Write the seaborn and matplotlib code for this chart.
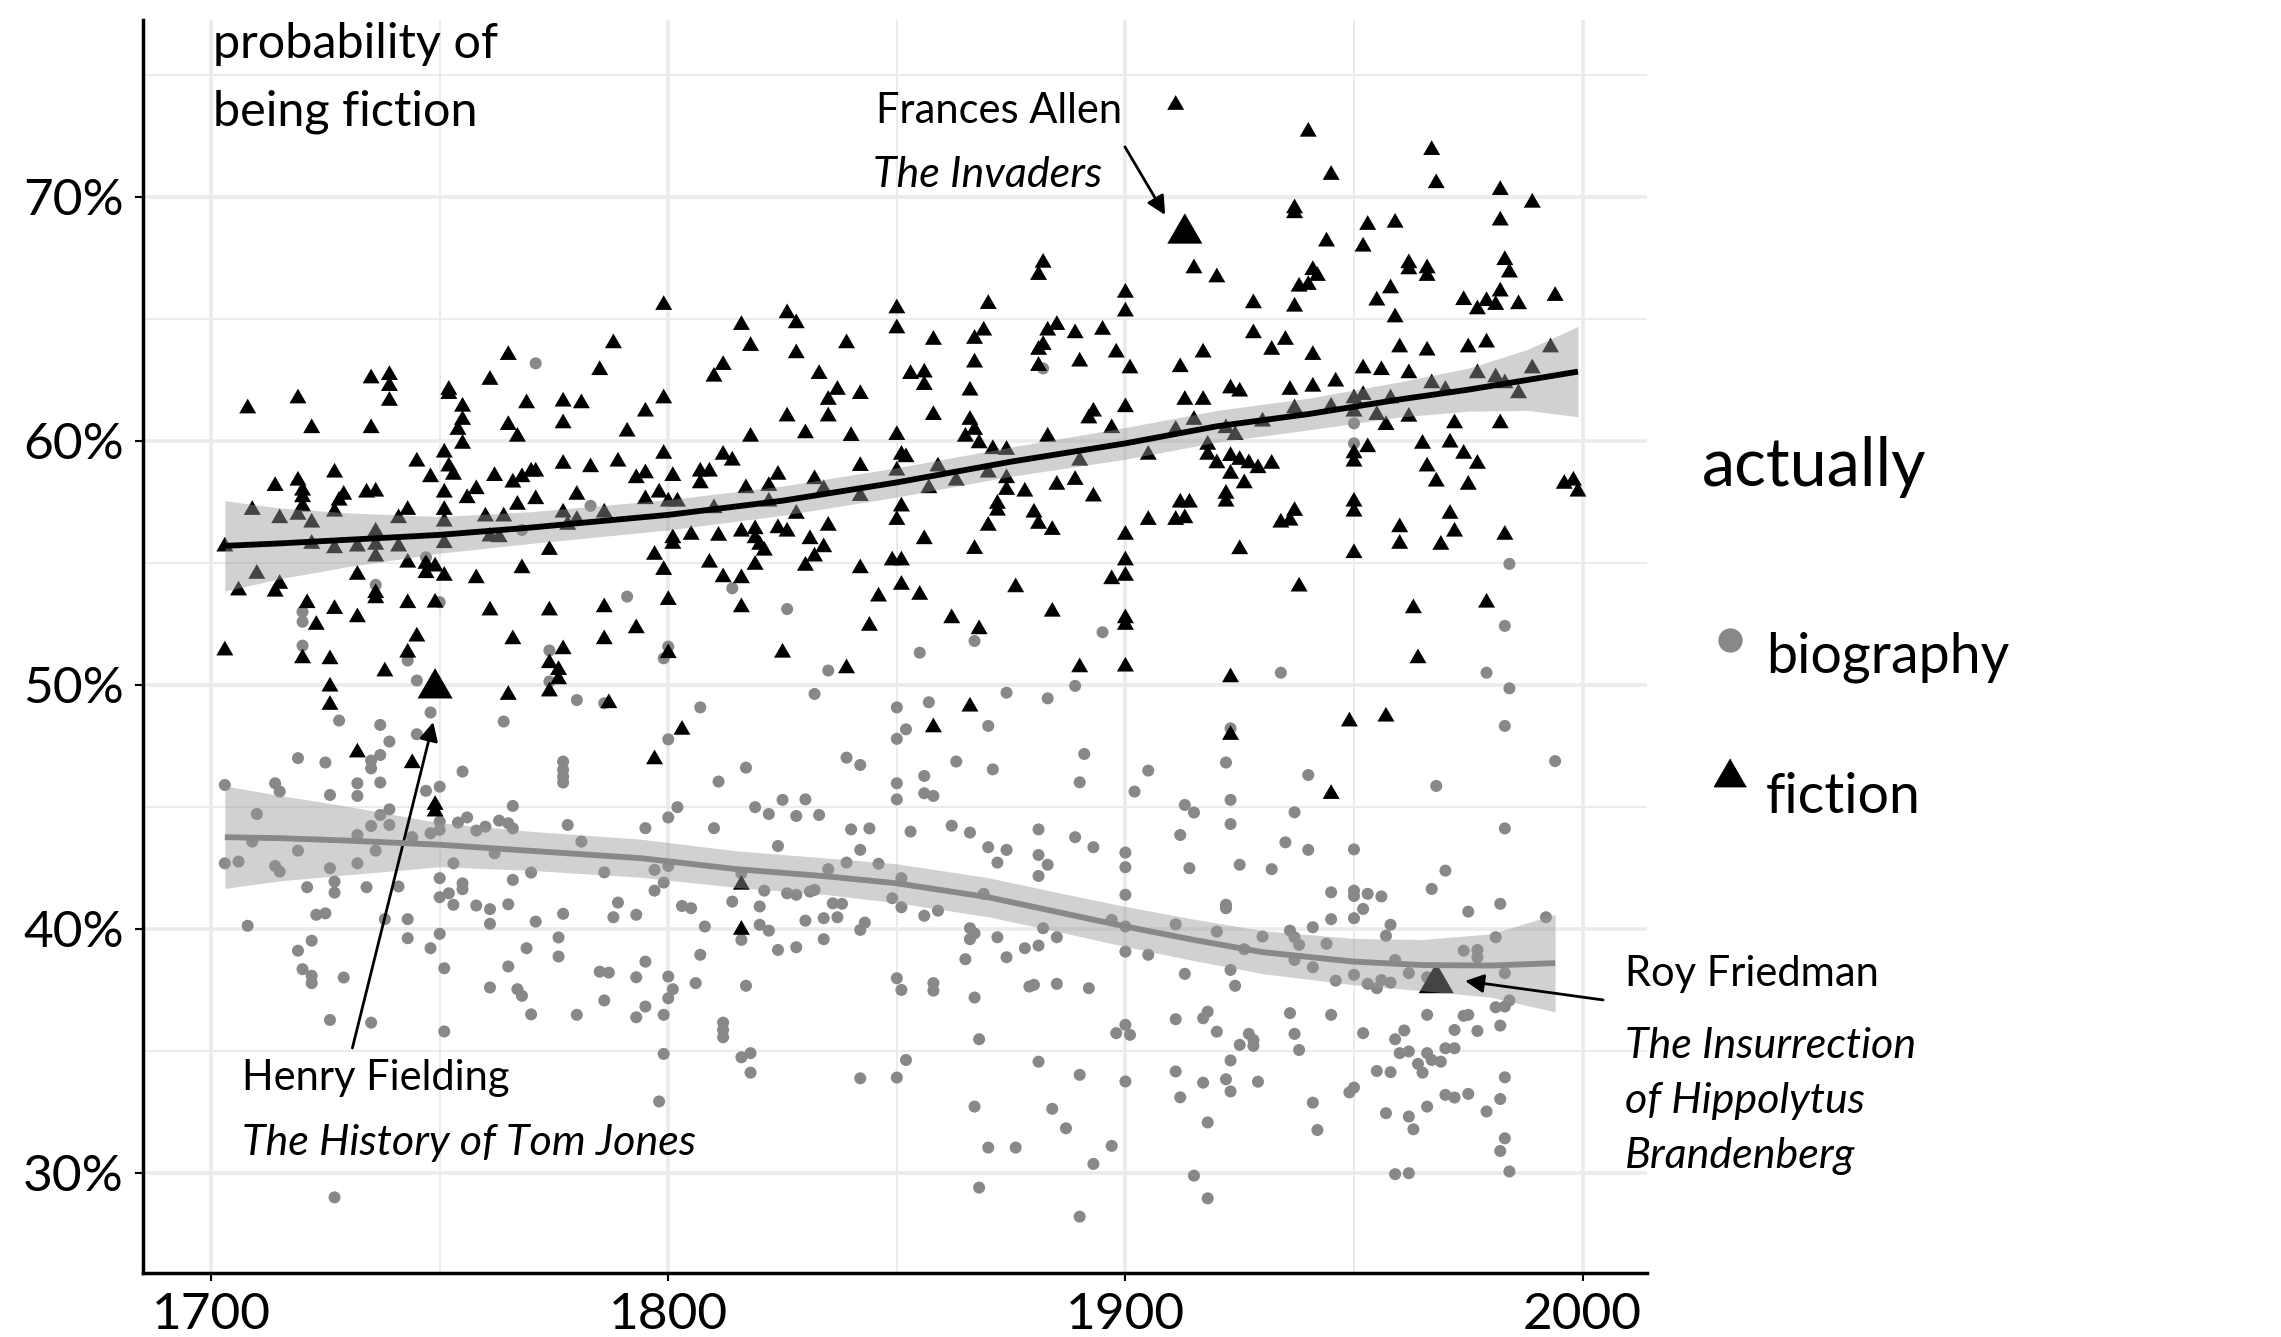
import numpy as np
import pandas as pd
import seaborn as sns
import matplotlib
matplotlib.use("Agg")
from matplotlib import pyplot as plt
from matplotlib.lines import Line2D
from matplotlib.markers import MarkerStyle
from matplotlib.ticker import FuncFormatter

# predicted probability of being fiction, by publication year
fiction_pts = [
    (1708, 61.33), (1719, 61.74), (1722, 60.52), (1735, 62.56), (1739, 62.70), (1739, 62.25),
    (1739, 61.64), (1735, 60.52), (1752, 62.09), (1752, 61.92), (1755, 61.40), (1755, 60.86),
    (1754, 60.45), (1765, 63.52), (1761, 62.50), (1769, 61.54), (1765, 60.65), (1767, 60.17),
    (1777, 61.61), (1781, 61.54), (1777, 60.72), (1785, 62.90), (1788, 64.00), (1791, 60.38),
    (1799, 65.57), (1799, 61.74), (1795, 61.20), (1816, 64.75), (1818, 63.89), (1812, 63.11),
    (1810, 62.63), (1826, 65.23), (1828, 64.82), (1828, 63.59), (1839, 64.00), (1833, 62.74),
    (1837, 62.09), (1835, 61.68), (1842, 61.92), (1826, 61.00), (1835, 61.00), (1830, 60.31),
    (1818, 60.17), (1840, 60.20), (1850, 65.43), (1850, 64.61), (1858, 64.14), (1853, 62.74),
    (1856, 62.80), (1856, 62.29), (1858, 61.06), (1850, 60.24), (1870, 65.61), (1869, 64.52),
    (1867, 64.18), (1867, 63.21), (1866, 62.06), (1866, 60.86), (1867, 60.45), (1865, 60.17),
    (1882, 67.30), (1881, 66.80), (1885, 64.75), (1883, 64.52), (1882, 63.93), (1881, 63.73),
    (1881, 63.07), (1889, 64.41), (1895, 64.55), (1890, 63.25), (1898, 63.62), (1900, 66.07),
    (1900, 65.30), (1901, 62.97), (1900, 61.38), (1893, 61.20), (1892, 60.92), (1897, 60.52),
    (1883, 60.17),
    (1911, 73.77), (1915, 67.07), (1920, 66.70), (1940, 72.67), (1945, 70.90), (1937, 69.53),
    (1937, 69.33), (1944, 68.17), (1941, 67.00), (1942, 66.76), (1940, 66.39), (1938, 66.32),
    (1928, 65.64), (1937, 65.50), (1928, 64.41), (1935, 64.14), (1932, 63.73), (1941, 63.52),
    (1917, 63.62), (1912, 63.02), (1913, 61.68), (1917, 61.68), (1923, 62.15), (1925, 62.02),
    (1936, 62.09), (1941, 62.22), (1946, 62.43), (1915, 60.86), (1911, 60.45), (1922, 60.52),
    (1924, 60.24), (1930, 60.79), (1937, 61.33), (1945, 61.40), (1950, 61.74), (1950, 61.20),
    (1953, 68.85), (1959, 68.94), (1952, 67.96), (1962, 67.28), (1962, 67.03), (1966, 67.07),
    (1966, 66.76), (1958, 66.25), (1955, 65.75), (1959, 65.06), (1967, 71.92), (1968, 70.56),
    (1982, 70.28), (1989, 69.76), (1982, 69.03), (1983, 67.41), (1984, 66.90), (1982, 66.12),
    (1974, 65.77), (1979, 65.73), (1981, 65.57), (1977, 65.39), (1986, 65.60), (1994, 65.94),
    (1960, 63.83), (1966, 63.70), (1975, 63.83), (1979, 64.03), (1952, 62.97), (1956, 62.90),
    (1962, 62.77), (1967, 62.36), (1970, 62.09), (1977, 62.77), (1981, 62.60), (1983, 62.36),
    (1986, 61.95), (1989, 62.97), (1993, 63.83), (1955, 61.06), (1957, 60.65), (1962, 60.99),
    (1972, 60.72), (1982, 60.72), (1958, 61.74), (1952, 61.88),
    (1755, 59.88), (1751, 59.52), (1745, 59.15), (1752, 58.95), (1753, 58.61), (1748, 58.51),
    (1751, 57.88), (1714, 58.15), (1719, 58.37), (1720, 57.96), (1720, 57.69), (1720, 57.31),
    (1727, 58.70), (1729, 57.79), (1728, 57.55), (1727, 57.10), (1734, 57.88), (1736, 57.92),
    (1709, 57.17), (1715, 56.83), (1719, 56.97), (1722, 56.65), (1703, 55.67), (1722, 55.78),
    (1727, 55.60), (1732, 55.67), (1736, 56.28), (1736, 55.74), (1736, 55.26), (1741, 56.83),
    (1743, 57.17), (1741, 55.67), (1751, 57.17), (1751, 56.69), (1751, 55.81), (1758, 58.02),
    (1756, 57.65), (1762, 58.56), (1766, 58.29), (1768, 58.51), (1770, 58.74), (1771, 58.74),
    (1771, 57.61), (1767, 57.38), (1777, 59.06), (1783, 58.92), (1789, 59.15), (1793, 58.47),
    (1780, 57.79), (1760, 56.90), (1764, 56.90), (1761, 56.08), (1763, 56.05), (1777, 57.06),
    (1780, 56.76), (1778, 56.56), (1786, 57.06), (1774, 55.53), (1768, 54.78), (1758, 54.37),
    (1743, 55.01), (1747, 54.96), (1749, 54.85), (1747, 54.58), (1751, 54.47), (1732, 54.51),
    (1710, 54.55), (1706, 53.87), (1715, 54.14), (1714, 53.82), (1736, 53.76), (1736, 53.55),
    (1743, 53.35), (1749, 53.37), (1721, 53.35), (1727, 53.11), (1732, 52.77), (1723, 52.46),
    (1761, 53.05), (1774, 53.05), (1786, 53.18), (1793, 52.32), (1766, 51.87), (1786, 51.87),
    (1745, 51.98), (1743, 51.32), (1703, 51.41), (1720, 51.09), (1726, 51.05), (1777, 51.46),
    (1774, 50.89), (1776, 50.61), (1776, 50.23), (1774, 49.73), (1738, 50.55), (1726, 49.93),
    (1726, 49.18), (1765, 49.59), (1787, 49.25), (1732, 47.23), (1744, 46.79), (1749, 45.08),
    (1749, 44.81),
    (1799, 59.47), (1795, 58.67), (1801, 58.56), (1807, 58.74), (1809, 58.74), (1807, 58.26),
    (1812, 59.43), (1814, 59.19), (1824, 58.61), (1798, 57.88), (1795, 57.61), (1800, 57.51),
    (1802, 57.51), (1817, 58.06), (1822, 58.15), (1810, 57.24), (1822, 57.51), (1832, 58.43),
    (1834, 58.02), (1842, 58.97), (1842, 57.74), (1850, 58.78), (1851, 59.43), (1852, 59.33),
    (1859, 58.95), (1857, 58.06), (1863, 58.37), (1870, 58.70), (1874, 58.47), (1871, 59.66),
    (1874, 59.63), (1890, 59.19), (1868, 59.90), (1874, 57.99), (1878, 57.92), (1885, 58.20),
    (1889, 58.40), (1893, 57.72), (1851, 57.31), (1850, 56.76), (1872, 57.42), (1872, 57.14),
    (1870, 56.52), (1880, 57.06), (1881, 56.60), (1884, 56.35), (1867, 55.57), (1856, 55.97),
    (1900, 56.15), (1900, 55.10), (1900, 54.47), (1897, 54.33), (1876, 54.00), (1884, 53.00),
    (1900, 52.73), (1900, 52.46), (1890, 50.72), (1900, 50.75), (1866, 49.11), (1858, 48.26),
    (1862, 52.73), (1868, 52.28), (1844, 52.42), (1846, 53.62), (1851, 54.10), (1855, 53.69),
    (1849, 55.10), (1851, 55.10), (1842, 54.78), (1801, 56.01), (1801, 55.78), (1797, 55.33),
    (1799, 54.71), (1800, 53.48), (1805, 56.15), (1811, 56.11), (1816, 56.28), (1819, 56.38),
    (1819, 56.01), (1820, 55.74), (1821, 55.50), (1819, 54.92), (1824, 56.42), (1826, 56.28),
    (1828, 57.01), (1831, 55.97), (1834, 55.64), (1832, 55.26), (1830, 54.88), (1835, 56.52),
    (1809, 55.01), (1812, 54.41), (1816, 54.37), (1816, 53.18), (1800, 51.30), (1825, 51.32),
    (1839, 50.68), (1803, 48.16), (1797, 46.95),
    (1905, 59.43), (1918, 59.84), (1918, 59.43), (1920, 59.08), (1923, 59.38), (1925, 59.22),
    (1927, 59.08), (1929, 58.88), (1932, 59.06), (1923, 58.65), (1926, 58.26), (1922, 57.83),
    (1922, 57.51), (1912, 57.47), (1914, 57.47), (1905, 56.76), (1911, 56.76), (1913, 56.83),
    (1934, 56.65), (1936, 56.73), (1937, 57.13), (1925, 55.56), (1950, 59.49), (1950, 59.15),
    (1953, 59.74), (1965, 59.88), (1971, 59.93), (1974, 59.47), (1977, 59.06), (1966, 58.95),
    (1968, 58.33), (1975, 58.20), (1996, 58.24), (1998, 58.37), (1999, 57.92), (1950, 57.51),
    (1950, 57.10), (1950, 55.40), (1960, 56.46), (1960, 55.78), (1971, 57.01), (1972, 56.28),
    (1969, 55.74), (1983, 56.15), (1938, 54.03), (1963, 53.14), (1979, 53.37), (1964, 51.09),
    (1923, 50.31), (1923, 47.95), (1949, 48.50), (1957, 48.70), (1945, 45.53),
    (1816, 41.81), (1816, 39.96),
]

biography_pts = [
    (1771, 63.18), (1882, 62.97), (1950, 60.72), (1950, 59.90),
    (1783, 57.34), (1768, 56.35), (1747, 55.23), (1736, 54.10), (1750, 53.39), (1720, 53.00),
    (1720, 52.59), (1720, 51.61), (1791, 53.62), (1743, 51.00), (1774, 51.41), (1774, 50.14),
    (1786, 49.25), (1780, 49.38), (1745, 50.18), (1748, 48.87), (1728, 48.54), (1737, 48.36),
    (1764, 48.50), (1745, 47.98), (1739, 47.68), (1719, 47.00), (1725, 46.82), (1737, 47.13),
    (1735, 46.90), (1735, 46.58), (1755, 46.45), (1777, 46.86), (1777, 46.52), (1777, 46.24),
    (1777, 46.00), (1703, 45.90), (1714, 45.97), (1715, 45.63), (1726, 45.49), (1732, 45.97),
    (1732, 45.45), (1737, 46.00), (1747, 45.66), (1750, 45.83), (1710, 44.71), (1737, 44.67),
    (1739, 44.90), (1735, 44.22), (1739, 44.26), (1750, 44.40), (1750, 44.06), (1748, 43.92),
    (1754, 44.36), (1756, 44.57), (1758, 44.03), (1760, 44.19), (1763, 44.44), (1765, 44.33),
    (1766, 44.12), (1766, 45.04), (1778, 44.26), (1781, 43.58), (1732, 43.85), (1744, 43.76),
    (1709, 43.58), (1719, 43.21), (1736, 43.21), (1762, 43.10),
    (1703, 42.69), (1706, 42.76), (1714, 42.58), (1715, 42.35), (1726, 42.49), (1732, 42.69),
    (1753, 42.69), (1721, 41.71), (1727, 41.94), (1727, 41.49), (1734, 41.71), (1741, 41.74),
    (1750, 42.08), (1750, 41.30), (1752, 41.46), (1755, 41.87), (1755, 41.63), (1753, 40.99),
    (1758, 40.96), (1761, 40.81), (1761, 40.21), (1765, 41.01), (1766, 42.01), (1770, 42.31),
    (1786, 42.32), (1777, 40.62), (1771, 40.30), (1789, 41.08), (1788, 40.48), (1793, 40.58),
    (1708, 40.13), (1723, 40.58), (1725, 40.64), (1738, 40.40), (1743, 40.40), (1743, 39.62),
    (1750, 39.80), (1748, 39.21), (1751, 38.39), (1722, 39.52), (1719, 39.11), (1720, 38.35),
    (1722, 38.08), (1722, 37.78), (1729, 38.01), (1769, 39.21), (1776, 39.65), (1776, 38.87),
    (1765, 38.46), (1761, 37.60), (1767, 37.53), (1768, 37.26), (1770, 36.50), (1780, 36.48),
    (1785, 38.25), (1787, 38.21), (1786, 37.07), (1793, 36.38), (1793, 38.02), (1726, 36.27),
    (1735, 36.16), (1751, 35.80), (1727, 29.00),
    (1814, 53.96), (1826, 53.11), (1800, 51.57), (1799, 51.09), (1835, 50.59), (1832, 49.63),
    (1855, 51.32), (1867, 51.80), (1895, 52.16), (1889, 49.96), (1874, 49.68), (1883, 49.45),
    (1850, 49.08), (1857, 49.29), (1852, 48.18), (1850, 47.79), (1870, 48.32), (1807, 49.08),
    (1800, 47.77), (1839, 47.02), (1842, 46.72), (1817, 46.61), (1811, 46.04), (1863, 46.86),
    (1871, 46.54), (1891, 47.17), (1890, 46.01), (1856, 46.27), (1850, 45.97), (1850, 45.31),
    (1856, 45.56), (1858, 45.45), (1902, 45.63), (1802, 44.99), (1800, 44.57), (1795, 44.13),
    (1810, 44.13), (1819, 44.99), (1822, 44.71), (1825, 45.29), (1828, 44.63), (1830, 45.31),
    (1833, 44.67), (1824, 43.40), (1840, 44.08), (1844, 44.12), (1842, 43.24), (1853, 43.99),
    (1862, 44.23), (1866, 43.95), (1870, 43.35), (1874, 43.24), (1881, 44.08), (1889, 43.76),
    (1893, 43.35), (1900, 43.13), (1881, 43.03),
    (1797, 42.42), (1800, 42.58), (1797, 41.57), (1799, 41.90), (1803, 40.94), (1805, 40.85),
    (1808, 40.10), (1807, 38.94), (1795, 38.66), (1800, 38.05), (1801, 37.53), (1800, 37.16),
    (1795, 36.82), (1799, 36.48), (1806, 37.78), (1799, 34.88), (1798, 32.93), (1814, 41.12),
    (1816, 42.28), (1816, 39.55), (1817, 37.67), (1812, 36.16), (1812, 35.86), (1812, 35.56),
    (1816, 34.74), (1818, 34.91), (1818, 34.11), (1820, 40.92), (1821, 41.57), (1820, 40.17),
    (1822, 39.93), (1824, 39.14), (1828, 39.25), (1826, 41.46), (1828, 41.40), (1831, 41.53),
    (1832, 41.60), (1835, 42.45), (1839, 42.72), (1846, 42.67), (1830, 40.34), (1834, 40.44),
    (1837, 40.48), (1836, 41.05), (1838, 41.03), (1834, 39.58), (1842, 39.96), (1843, 40.26),
    (1842, 33.88), (1850, 33.91), (1852, 34.63), (1849, 41.26), (1851, 42.08), (1851, 40.89),
    (1856, 40.54), (1859, 40.75), (1850, 37.98), (1851, 37.50), (1858, 37.78), (1858, 37.47),
    (1869, 41.44), (1872, 42.72), (1866, 40.03), (1867, 39.82), (1866, 39.58), (1872, 39.66),
    (1865, 38.76), (1874, 38.84), (1867, 37.19), (1868, 35.48), (1882, 40.03), (1885, 39.66),
    (1878, 39.21), (1881, 39.32), (1881, 42.17), (1883, 42.63), (1879, 37.64), (1880, 37.71),
    (1885, 37.75), (1892, 37.57), (1897, 40.37), (1900, 42.53), (1900, 41.40), (1900, 40.10),
    (1900, 39.07), (1898, 35.73), (1900, 36.07), (1901, 35.66), (1900, 33.75), (1881, 34.56),
    (1890, 34.02), (1867, 32.72), (1884, 32.63), (1887, 31.83), (1870, 31.04), (1876, 31.04),
    (1897, 31.11), (1893, 30.37), (1868, 29.40), (1890, 28.21),
    (1984, 54.96), (1983, 52.42), (1979, 50.50), (1984, 49.86), (1983, 48.32), (1934, 50.50),
    (1923, 48.22), (1994, 46.88), (1922, 46.82), (1905, 46.49), (1940, 46.31), (1968, 45.86),
    (1923, 45.29), (1913, 45.08), (1915, 44.77), (1937, 44.78), (1983, 44.12), (1923, 44.30),
    (1912, 43.85), (1935, 43.55), (1940, 43.24), (1950, 43.26),
    (1914, 42.49), (1925, 42.63), (1932, 42.45), (1970, 42.39), (1945, 41.50), (1950, 41.57),
    (1950, 41.35), (1953, 41.44), (1956, 41.33), (1967, 41.64), (1982, 41.03), (1922, 40.99),
    (1922, 40.85), (1952, 40.82), (1975, 40.71), (1945, 40.40), (1950, 40.44), (1958, 40.17),
    (1957, 39.72), (1911, 40.19), (1920, 39.89), (1936, 39.93), (1937, 39.66), (1938, 39.35),
    (1941, 40.07), (1930, 39.69), (1944, 39.39), (1992, 40.48), (1981, 39.66), (1974, 39.11),
    (1977, 39.14), (1977, 38.84), (1905, 38.94), (1926, 39.17), (1937, 38.73), (1941, 38.43),
    (1923, 38.32), (1913, 38.16), (1924, 37.67), (1946, 37.88), (1950, 38.12), (1953, 37.75),
    (1955, 37.57), (1956, 37.91), (1958, 37.80), (1959, 38.73), (1962, 38.19), (1966, 38.02),
    (1983, 38.19), (1984, 37.07), (1983, 36.82), (1981, 36.79), (1975, 36.48), (1974, 36.44),
    (1966, 36.48), (1982, 36.04), (1977, 35.82), (1972, 35.86), (1911, 36.30), (1917, 36.34),
    (1918, 36.61), (1920, 35.79), (1936, 36.55), (1945, 36.48), (1937, 35.70), (1938, 35.04),
    (1927, 35.70), (1928, 35.45), (1928, 35.21), (1925, 35.25), (1952, 35.73), (1961, 35.84),
    (1959, 35.48), (1960, 34.91), (1962, 34.98), (1966, 34.91), (1964, 34.47), (1965, 34.11),
    (1967, 34.63), (1969, 34.56), (1970, 35.11), (1972, 35.11), (1923, 34.61), (1911, 34.16),
    (1917, 33.70), (1922, 33.84), (1923, 33.34), (1929, 33.74), (1912, 33.10), (1955, 34.18),
    (1958, 34.13), (1950, 33.50), (1949, 33.30), (1983, 33.92), (1970, 33.20), (1972, 33.09),
    (1975, 33.24), (1982, 33.03), (1941, 32.88), (1966, 32.72), (1957, 32.45), (1962, 32.31),
    (1979, 32.52), (1918, 32.07), (1942, 31.76), (1963, 31.79), (1983, 31.42), (1982, 30.90),
    (1984, 30.06), (1959, 29.95), (1962, 29.99), (1915, 29.89), (1918, 28.96),
]

# highlighted fiction titles
highlight_year = [1749, 1913, 1968]
highlight_prob = [49.86, 68.5, 37.78]

# loess trend + 95% band
fic_trend_year = [1703, 1715, 1730, 1750, 1770, 1800, 1825, 1850, 1875, 1900, 1920, 1940, 1960, 1975, 1988, 1999]
fic_trend_fit = [55.7, 55.8, 55.95, 56.15, 56.45, 56.97, 57.55, 58.3, 59.15, 59.9, 60.6, 61.1, 61.7, 62.1, 62.5, 62.84]
fic_trend_half = [1.85, 1.45, 1.1, 0.75, 0.65, 0.62, 0.6, 0.6, 0.6, 0.65, 0.65, 0.65, 0.72, 0.88, 1.25, 1.85]

bio_trend_year = [1703, 1715, 1730, 1750, 1770, 1794, 1815, 1835, 1850, 1870, 1885, 1900, 1915, 1930, 1950, 1965, 1980, 1994]
bio_trend_fit = [43.76, 43.72, 43.62, 43.45, 43.2, 42.9, 42.45, 42.15, 41.87, 41.3, 40.7, 40.1, 39.55, 39.05, 38.66, 38.52, 38.5, 38.6]
bio_trend_half = [2.1, 1.75, 1.4, 0.9, 0.8, 0.78, 0.75, 0.75, 0.8, 0.8, 0.8, 0.82, 0.85, 0.88, 0.95, 1.05, 1.3, 2.0]

W, H = 2281, 1337
FONT = ["Lato", "DejaVu Sans"]

sns.set_theme(style="white")
plt.rcParams["font.family"] = FONT
plt.rcParams["text.color"] = "black"

fic = pd.DataFrame(fiction_pts, columns=["year", "prob"])
bio = pd.DataFrame(biography_pts, columns=["year", "prob"])

tri = MarkerStyle([(0, 1), (-0.866, -0.5), (0.866, -0.5)])

fig = plt.figure(figsize=(W / 100, H / 100), dpi=100)
ax = fig.add_axes([143 / W, 1 - 1273 / H, (1647 - 143) / W, (1273 - 20) / H])

sns.scatterplot(data=bio, x="year", y="prob", color="#888888", s=75,
                linewidth=0, edgecolor="none", ax=ax, zorder=2)
sns.scatterplot(data=fic, x="year", y="prob", color="black", marker=tri, s=200,
                linewidth=0, edgecolor="none", ax=ax, zorder=2)
sns.scatterplot(x=highlight_year, y=highlight_prob, color="black", marker=tri, s=850,
                linewidth=0, edgecolor="none", ax=ax, zorder=2)

# trend bands drawn over the points, like geom_smooth
for yrs, fit, half, col in [(fic_trend_year, fic_trend_fit, fic_trend_half, "black"),
                            (bio_trend_year, bio_trend_fit, bio_trend_half, "#888888")]:
    fit = np.array(fit)
    half = np.array(half)
    ax.fill_between(yrs, fit - half, fit + half, color="#999999", alpha=0.45, lw=0, zorder=3)
    sns.lineplot(x=yrs, y=fit, color=col, lw=4.2, ax=ax, zorder=4, solid_capstyle="butt")

ax.set_xlim(1685.1, 2014.1)
ax.set_ylim(25.9, 77.25)
ax.set_xticks([1700, 1800, 1900, 2000])
ax.set_xticks([1750, 1850, 1950], minor=True)
ax.set_yticks([30, 40, 50, 60, 70])
ax.set_yticks([35, 45, 55, 65, 75], minor=True)
ax.yaxis.set_major_formatter(FuncFormatter(lambda v, p: f"{v:.0f}%"))
ax.grid(which="major", color="#EBEBEB", lw=2.6, zorder=0)
ax.grid(which="minor", color="#EBEBEB", lw=1.4, zorder=0)
ax.set_axisbelow(True)
ax.tick_params(which="major", direction="out", length=6, width=1.5, color="black",
               labelsize=37, pad=8, labelcolor="black", left=True, bottom=True)
ax.tick_params(which="minor", length=0)
ax.set_xlabel("")
ax.set_ylabel("")
for side in ["top", "right"]:
    ax.spines[side].set_visible(False)
for side in ["left", "bottom"]:
    ax.spines[side].set_color("black")
    ax.spines[side].set_linewidth(2.5)

# y title sits inside the panel, top left
fig.text(213 / W, 1 - 58 / H, "probability of", fontsize=35, va="baseline", ha="left")
fig.text(213 / W, 1 - 125 / H, "being fiction", fontsize=35, va="baseline", ha="left")

# annotations
arrow = dict(arrowstyle="-|>", color="black", lw=2, shrinkA=0, shrinkB=0, mutation_scale=28)
ax.annotate("", xy=(1908.7, 69.26), xytext=(1899.9, 72.05), arrowprops=arrow, annotation_clip=False)
ax.annotate("", xy=(1748.6, 48.48), xytext=(1730.9, 35.12), arrowprops=arrow, annotation_clip=False)
ax.annotate("", xy=(1974.3, 37.87), xytext=(2004.5, 37.09), arrowprops=arrow, annotation_clip=False)

note = dict(va="baseline", ha="left", clip_on=False)
ax.text(1845.5, 73.03, "Frances Allen", fontsize=30, **note)
ax.text(1844.8, 70.41, "The Invaders", style="italic", fontsize=31, **note)
ax.text(1706.8, 33.4, "Henry Fielding", fontsize=30, **note)
ax.text(1706.8, 30.74, "The History of Tom Jones", style="italic", fontsize=31, **note)
ax.text(2009.3, 37.66, "Roy Friedman", fontsize=30, **note)
ax.text(2009.3, 34.71, "The Insurrection", style="italic", fontsize=31, **note)
ax.text(2009.3, 32.46, "of Hippolytus", style="italic", fontsize=31, **note)
ax.text(2009.3, 30.2, "Brandenberg", style="italic", fontsize=31, **note)

# legend
fig.text(1702 / W, 1 - 486 / H, "actually", fontsize=48, va="baseline", ha="left")
fig.add_artist(Line2D([1730 / W], [1 - 640 / H], marker="o", ms=16.5, color="#888888",
                      lw=0, transform=fig.transFigure))
fig.add_artist(Line2D([1730 / W], [1 - 777 / H], marker=tri, ms=26.5, color="black",
                      lw=0, transform=fig.transFigure))
fig.text(1766 / W, 1 - 673 / H, "biography", fontsize=40, va="baseline", ha="left")
fig.text(1766 / W, 1 - 813 / H, "fiction", fontsize=40, va="baseline", ha="left")

fig.savefig("out.png", dpi=100, facecolor="white")
